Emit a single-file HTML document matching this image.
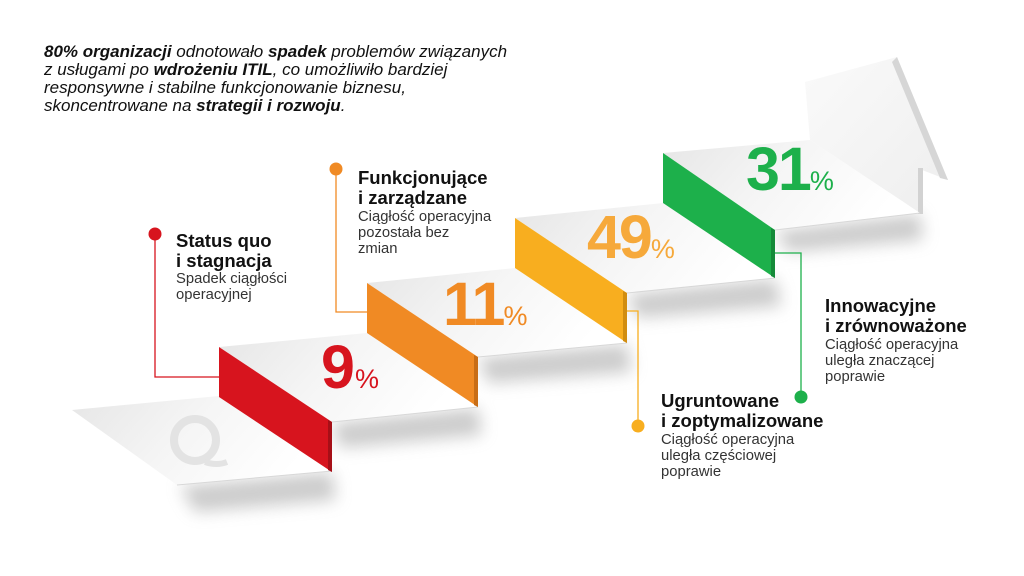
<!DOCTYPE html>
<html><head><meta charset="utf-8"><style>
html,body{margin:0;padding:0;background:#fff;}
svg{display:block;}
text{font-family:"Liberation Sans",Arial,sans-serif;}
</style></head><body>
<svg width="1024" height="576" viewBox="0 0 1024 576" xmlns="http://www.w3.org/2000/svg">
<defs>
<filter id="b" x="-30%" y="-50%" width="160%" height="200%"><feGaussianBlur stdDeviation="8"/></filter>
<linearGradient id="tg" x1="0" y1="0" x2="1" y2="0.3">
<stop offset="0" stop-color="#e6e6e6"/><stop offset="0.5" stop-color="#f5f5f5"/><stop offset="1" stop-color="#ffffff"/></linearGradient>
<linearGradient id="ag" x1="0" y1="0" x2="1" y2="1">
<stop offset="0" stop-color="#fafafa"/><stop offset="1" stop-color="#eeeeee"/></linearGradient>
</defs>

<!-- shadows -->
<g fill="#9a9a9a" opacity="0.5" filter="url(#b)">
<polygon points="180,486 332,472 336,500 195,512"/>
<polygon points="332,423 478,408 482,435 340,448"/>
<polygon points="478,358 627,344 632,372 488,383"/>
<polygon points="627,294 775,279 782,306 637,318"/>
<polygon points="775,231 920,214 923,240 788,252"/>
</g>

<!-- arrow head -->
<polygon points="805,82 897,57 948,180 922,170 920,213 810,140" fill="url(#ag)"/>
<polygon points="897,57 948,180 940,178 892,62" fill="#d6d6d6"/>
<polygon points="918,168 923,168 923,214 918,214" fill="#d2d2d2"/>

<!-- treads -->
<polygon points="72,410 219,396 332,471 177,485" fill="url(#tg)"/>
<polygon points="219,347 367,333 478,407 332,422" fill="url(#tg)"/>
<polygon points="367,283 515,268 627,343 478,357" fill="url(#tg)"/>
<polygon points="515,218 663,203 775,278 627,293" fill="url(#tg)"/>
<polygon points="663,153 810,140 920,213 775,230" fill="url(#tg)"/>
<g stroke="#d8d8d8" stroke-width="1" fill="none">
<line x1="177" y1="485" x2="332" y2="471"/>
<line x1="332" y1="422" x2="478" y2="407"/>
<line x1="478" y1="357" x2="627" y2="343"/>
<line x1="627" y1="293" x2="775" y2="278"/>
<line x1="775" y1="230" x2="920" y2="213"/>
</g>

<!-- watermark logo -->
<g fill="none" stroke="#e3e3e3" stroke-width="8">
<circle cx="195" cy="440" r="21"/>
</g>
<path d="M205 462 q12 4 22 0" stroke="#e3e3e3" stroke-width="6" fill="none"/>

<!-- risers -->
<polygon points="219,347 332,422 332,472 219,397" fill="#d7141e"/>
<polygon points="328,420 332,422 332,472 328,470" fill="#a60f17"/>
<polygon points="367,283 478,357 478,407 367,333" fill="#f08a24"/>
<polygon points="474,355 478,357 478,407 474,405" fill="#c86d16"/>
<polygon points="515,218 627,293 627,343 515,268" fill="#f8ae1f"/>
<polygon points="623,291 627,293 627,343 623,341" fill="#d18d10"/>
<polygon points="663,153 775,230 775,278 663,203" fill="#1db04b"/>
<polygon points="771,228 775,230 775,278 771,276" fill="#158a39"/>

<!-- connectors -->
<g fill="none" stroke-width="1.3">
<polyline points="155,234 155,377 219,377" stroke="#d7141e"/>
<polyline points="336,169 336,312 367,312" stroke="#f08a24"/>
<polyline points="627,311 638,311 638,426" stroke="#f8ae1f"/>
<polyline points="775,253 801,253 801,397" stroke="#1db04b"/>
</g>
<circle cx="155" cy="234" r="6.5" fill="#d7141e"/>
<circle cx="336" cy="169" r="6.5" fill="#f08a24"/>
<circle cx="638" cy="426" r="6.5" fill="#f8ae1f"/>
<circle cx="801" cy="397" r="6.5" fill="#1db04b"/>

<!-- percentages -->
<g font-weight="bold">
<text x="321" y="388" font-size="61" fill="#d7141e">9<tspan font-size="27" font-weight="normal">%</tspan></text>
<text x="443" y="325" font-size="61" fill="#f08a24" letter-spacing="-2">11<tspan font-size="27" font-weight="normal" letter-spacing="0">%</tspan></text>
<text x="587" y="258" font-size="61" fill="#f6a93b" letter-spacing="-2">49<tspan font-size="27" font-weight="normal" letter-spacing="0">%</tspan></text>
<text x="746" y="190" font-size="61" fill="#1db04b" letter-spacing="-2">31<tspan font-size="27" font-weight="normal" letter-spacing="0">%</tspan></text>
</g>

<!-- title -->
<g font-size="17" font-style="italic" fill="#111">
<text x="44" y="57"><tspan font-weight="bold">80% organizacji</tspan> odnotowało <tspan font-weight="bold">spadek</tspan> problemów związanych</text>
<text x="44" y="75">z usługami po <tspan font-weight="bold">wdrożeniu ITIL</tspan>, co umożliwiło bardziej</text>
<text x="44" y="93">responsywne i stabilne funkcjonowanie biznesu,</text>
<text x="44" y="111">skoncentrowane na <tspan font-weight="bold">strategii i rozwoju</tspan>.</text>
</g>

<!-- labels -->
<g fill="#111">
<text x="176" y="247" font-size="18.5" font-weight="bold">Status quo</text>
<text x="176" y="267" font-size="18.5" font-weight="bold">i stagnacja</text>
<text x="176" y="283" font-size="14.8" fill="#333">Spadek ciągłości</text>
<text x="176" y="299" font-size="14.8" fill="#333">operacyjnej</text>

<text x="358" y="184" font-size="18.5" font-weight="bold">Funkcjonujące</text>
<text x="358" y="204" font-size="18.5" font-weight="bold">i zarządzane</text>
<text x="358" y="221" font-size="14.8" fill="#333">Ciągłość operacyjna</text>
<text x="358" y="237" font-size="14.8" fill="#333">pozostała bez</text>
<text x="358" y="253" font-size="14.8" fill="#333">zmian</text>

<text x="825" y="312" font-size="18.5" font-weight="bold">Innowacyjne</text>
<text x="825" y="332" font-size="18.5" font-weight="bold">i zrównoważone</text>
<text x="825" y="349" font-size="14.8" fill="#333">Ciągłość operacyjna</text>
<text x="825" y="365" font-size="14.8" fill="#333">uległa znaczącej</text>
<text x="825" y="381" font-size="14.8" fill="#333">poprawie</text>

<text x="661" y="407" font-size="18.5" font-weight="bold">Ugruntowane</text>
<text x="661" y="427" font-size="18.5" font-weight="bold">i zoptymalizowane</text>
<text x="661" y="444" font-size="14.8" fill="#333">Ciągłość operacyjna</text>
<text x="661" y="460" font-size="14.8" fill="#333">uległa częściowej</text>
<text x="661" y="476" font-size="14.8" fill="#333">poprawie</text>
</g>
</svg>
</body></html>
